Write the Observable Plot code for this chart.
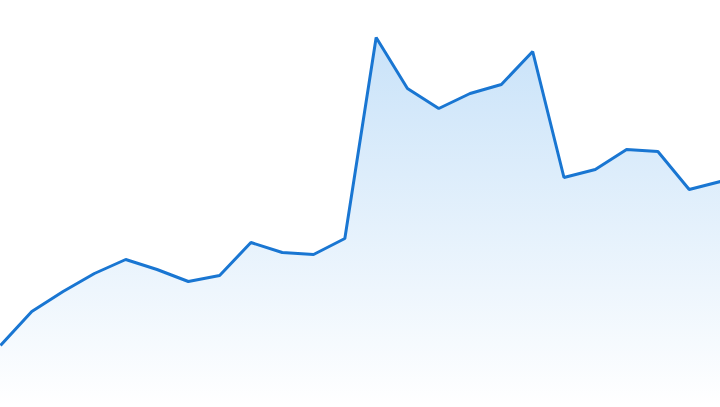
<!DOCTYPE html>
<html>
<head>
<meta charset="utf-8">
<script src="https://cdn.jsdelivr.net/npm/d3@7"></script>
<script src="https://cdn.jsdelivr.net/npm/@observablehq/plot@0.6"></script>
<style>
html, body { margin: 0; padding: 0; background: #fff; overflow: hidden; }
</style>
</head>
<body>
<div id="chart"></div>
<script>
const periods = d3.range(24);
const values = [62, 96, 116, 134, 148, 138, 126, 132, 165, 155, 153, 169, 370, 319, 299, 314, 323, 356, 230, 238, 258, 256, 218, 226];

const data = periods.map((p, i) => ({ p, v: values[i] }));

const defs = () => {
  const g = d3.create("svg:defs");
  const lg = g.append("linearGradient")
    .attr("id", "areaGrad").attr("x1", 0).attr("y1", 0).attr("x2", 0).attr("y2", 1);
  lg.append("stop").attr("offset", "0%").attr("stop-color", "#1e88e5").attr("stop-opacity", 0.24);
  lg.append("stop").attr("offset", "100%").attr("stop-color", "#1e88e5").attr("stop-opacity", 0.0);
  return g.node();
};

const chart = Plot.plot({
  width: 720,
  height: 407,
  margin: 0,
  x: { domain: [0, 23], axis: null },
  y: { domain: [0, 407], axis: null },
  marks: [
    defs,
    Plot.areaY(data, { x: "p", y: "v", fill: "url(#areaGrad)" }),
    Plot.lineY(data, { x: "p", y: "v", stroke: "#1976d2", strokeWidth: 3, strokeLinejoin: "miter", strokeLinecap: "butt" })
  ]
});
document.getElementById("chart").appendChild(chart);
</script>
</body>
</html>
